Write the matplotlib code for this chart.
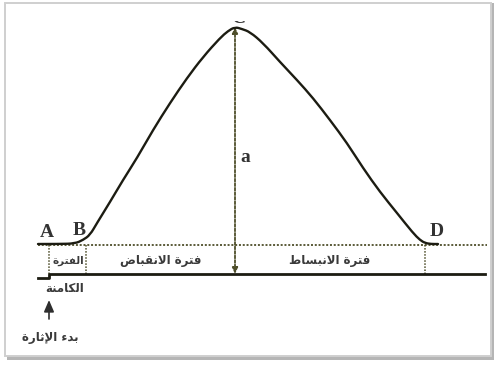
import matplotlib
matplotlib.use("Agg")
import matplotlib.pyplot as plt
from matplotlib.patches import Rectangle, FancyArrowPatch, PathPatch
from matplotlib.path import Path
from matplotlib.transforms import Bbox

# ---- muscle twitch trace: time (arbitrary units) vs tension ----
t = [38, 60, 75, 83, 90, 97, 110, 123, 137, 153, 170, 187, 203, 220, 228,
     235, 242, 250, 263, 280, 297, 313, 330, 347, 363, 380, 397, 413, 420,
     425, 431, 438]
tension = [1, 1, 1.5, 5, 10, 22, 43, 65, 87, 115, 142, 167, 188, 207, 214,
           218, 216, 213, 202, 183, 165, 147, 125, 102, 77, 53, 32, 12, 5,
           2, 1, 1]

# event times
t_start = 38        # A : trace start
t_stim = 49         # stimulus onset
t_b = 86            # B : start of contraction
t_peak = 235        # C : peak tension
t_d = 425           # D : end of relaxation
t_end = 487         # right end of baseline
t_lower_end = 485   # right end of time bar

peak_tension = 218
level_timebar = -29
level_pre_stim = -33

point_labels = ["A", "B", "C", "D"]
amp_label = "a"
phase_labels = ["الفترة", "فترة الانقباض", "فترة الانبساط"]
latent_word = "الكامنة"
stim_label = "بدء الإثارة"


# ---- minimal Arabic shaping (contextual forms + RTL order) ----
FORMS = {  # isolated, final, initial, medial
    "ا": (0xFE8D, 0xFE8E, None, None),
    "إ": (0xFE87, 0xFE88, None, None),
    "ب": (0xFE8F, 0xFE90, 0xFE91, 0xFE92),
    "ة": (0xFE93, 0xFE94, None, None),
    "ت": (0xFE95, 0xFE96, 0xFE97, 0xFE98),
    "ث": (0xFE99, 0xFE9A, 0xFE9B, 0xFE9C),
    "د": (0xFEA9, 0xFEAA, None, None),
    "ر": (0xFEAD, 0xFEAE, None, None),
    "س": (0xFEB1, 0xFEB2, 0xFEB3, 0xFEB4),
    "ض": (0xFEBD, 0xFEBE, 0xFEBF, 0xFEC0),
    "ط": (0xFEC1, 0xFEC2, 0xFEC3, 0xFEC4),
    "ف": (0xFED1, 0xFED2, 0xFED3, 0xFED4),
    "ق": (0xFED5, 0xFED6, 0xFED7, 0xFED8),
    "ك": (0xFED9, 0xFEDA, 0xFEDB, 0xFEDC),
    "ل": (0xFEDD, 0xFEDE, 0xFEDF, 0xFEE0),
    "م": (0xFEE1, 0xFEE2, 0xFEE3, 0xFEE4),
    "ن": (0xFEE5, 0xFEE6, 0xFEE7, 0xFEE8),
    "ء": (0xFE80, None, None, None),
    "لا": (0xFEFB, 0xFEFC, None, None),
    "لإ": (0xFEF9, 0xFEFA, None, None),
}


def shape_ar(s):
    units = []
    i = 0
    while i < len(s):
        if s[i] == "ل" and i + 1 < len(s) and s[i + 1] in "اإ":
            units.append(s[i:i + 2])
            i += 2
        else:
            units.append(s[i])
            i += 1

    def joins_left(u):
        return u in FORMS and FORMS[u][2] is not None

    def joins_right(u):
        return u in FORMS and FORMS[u][1] is not None

    out = []
    for k, u in enumerate(units):
        if u not in FORMS:
            out.append(u)
            continue
        prev_ok = k > 0 and joins_left(units[k - 1]) and joins_right(u)
        next_ok = (k + 1 < len(units) and joins_left(u)
                   and joins_right(units[k + 1]))
        iso, fin, ini, med = FORMS[u]
        if prev_ok and next_ok:
            cp = med
        elif prev_ok:
            cp = fin
        elif next_ok:
            cp = ini
        else:
            cp = iso
        out.append(chr(cp))
    return "".join(out)[::-1]


def smooth_path(xs, ys):
    """Quadratic-Bezier path using the samples as control points."""
    verts = [(xs[0], ys[0])]
    codes = [Path.MOVETO]
    for k in range(1, len(xs) - 1):
        mx = (xs[k] + xs[k + 1]) / 2
        my = (ys[k] + ys[k + 1]) / 2
        verts += [(xs[k], ys[k]), (mx, my)]
        codes += [Path.CURVE3, Path.CURVE3]
    verts.append((xs[-1], ys[-1]))
    codes.append(Path.LINETO)
    return Path(verts, codes)


AR_FONT = ["DejaVu Sans"]
SERIF = ["Liberation Serif", "DejaVu Serif"]

fig = plt.figure(figsize=(4.95, 3.65), dpi=100)
fig.patch.set_facecolor("white")
ax = fig.add_axes([0, 0, 1, 1])
ax.set_zorder(2)
ax.set_xlim(0, 495)
ax.set_ylim(-120, 245)
ax.axis("off")

# picture frame with a soft shadow
fig.patches.append(Rectangle((7 / 495, 1 - 360 / 365), 487 / 495, 357 / 365,
                             transform=fig.transFigure, facecolor="#b5b5b5",
                             edgecolor="none", zorder=0))
fig.patches.append(Rectangle((5 / 495, 1 - 356 / 365), 486 / 495, 353 / 365,
                             transform=fig.transFigure, facecolor="white",
                             edgecolor="#cfcfcf", linewidth=1.4, zorder=0.5))

line_col = "#1c1c12"
dot_col = "#4e4e2a"

# tension trace
ax.add_patch(PathPatch(smooth_path(t, tension), facecolor="none",
                       edgecolor=line_col, lw=1.7, capstyle="round",
                       joinstyle="round", zorder=5))

# baseline (dotted) and time bar (solid, stepping at the stimulus)
ax.plot([t_start, t_end], [0, 0], color=dot_col, lw=1.3,
        linestyle=(0, (1.1, 1.0)), zorder=3)
ax.plot([t_start, t_stim, t_stim, t_lower_end],
        [level_pre_stim, level_pre_stim, level_timebar, level_timebar],
        color=line_col, lw=2.0, zorder=4)

# vertical dotted dividers between the phases
for tv in (t_stim, t_b, t_d):
    ax.plot([tv, tv], [0, level_timebar], color=dot_col, lw=1.1,
            linestyle=(0, (1, 1)), zorder=3)

# amplitude arrow (double headed, dotted)
amp = FancyArrowPatch((t_peak, level_timebar), (t_peak, peak_tension),
                      arrowstyle="<|-|>,head_length=3.5,head_width=1.6",
                      color=dot_col, lw=1.3, linestyle=(0, (1.5, 1.0)),
                      shrinkA=0, shrinkB=0, zorder=4)
ax.add_patch(amp)

# point letters
lbl_kw = dict(fontsize=14, family=SERIF, color="#333333", ha="center",
              va="baseline", fontweight="bold", zorder=6)
ax.text(t_start + 9, 8, point_labels[0], **lbl_kw)
ax.text(t_b - 7, 10, point_labels[1], **lbl_kw)
ax.text(t_d + 12, 9, point_labels[3], **lbl_kw)
c_txt = ax.text(t_peak + 4, peak_tension + 4, point_labels[2], **lbl_kw)
c_txt.set_clip_box(ax.transData.transform_bbox(
    Bbox([[t_peak - 10, 0], [t_peak + 20, 224]])))
c_txt.set_clip_on(True)
ax.text(t_peak + 10, 88, amp_label, fontsize=14, family=SERIF,
        color="#333333", fontweight="bold", ha="center", va="center",
        zorder=6)

# phase names
ph_kw = dict(fontsize=8.5, family=AR_FONT, color="#3a3a3a", ha="center",
             va="center", fontweight="bold", zorder=6)
mid = level_timebar / 2 - 1
ax.text((t_stim + t_b) / 2 + 0.5, mid, shape_ar(phase_labels[0]),
        **{**ph_kw, "fontsize": 7.5})
ax.text((t_b + t_peak) / 2, mid, shape_ar(phase_labels[1]), **ph_kw)
ax.text((t_peak + t_d) / 2, mid, shape_ar(phase_labels[2]), **ph_kw)
ax.text(t_stim + 16, level_timebar - 15, shape_ar(latent_word), **ph_kw)

# stimulus marker
ax.annotate("", xy=(t_stim, -55), xytext=(t_stim, -74),
            arrowprops=dict(arrowstyle="-|>,head_length=0.7,head_width=0.3",
                            color="#2e2e2e", lw=1.2, shrinkA=0, shrinkB=0),
            zorder=6)
ax.text(t_stim + 1, -93, shape_ar(stim_label), **ph_kw)

fig.savefig("out.png", dpi=100, facecolor="white")
